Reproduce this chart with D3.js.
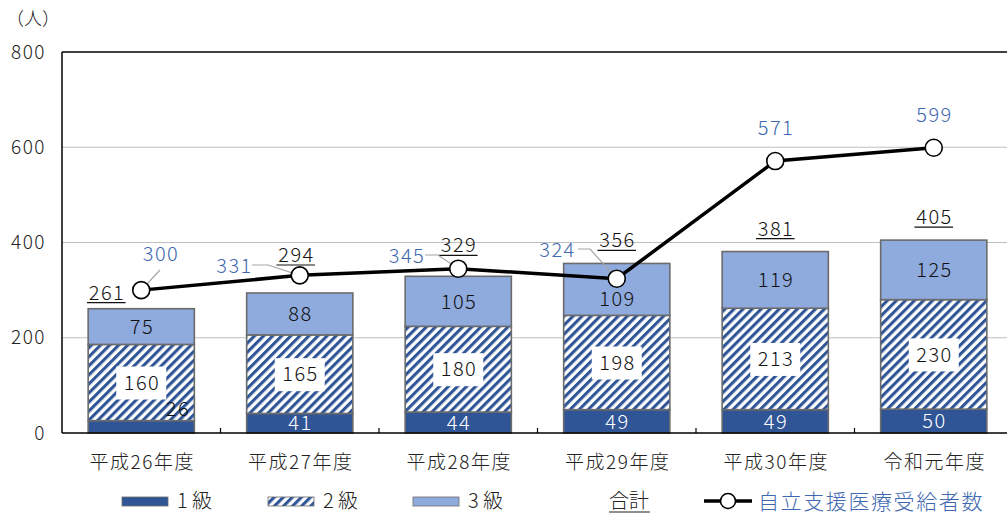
<!DOCTYPE html>
<meta charset='utf-8'>
<style>
  body { margin: 0; background: #fff; }
  svg text { font-family: 'Noto Sans CJK JP', 'Noto Sans', sans-serif; font-weight: 300; }
  .num { letter-spacing: 1.5px; }
</style>
<div id='chart'></div>
<script src='https://d3js.org/d3.v7.min.js'></script>
<script>

  // data
  var years = ['平成26年度', '平成27年度', '平成28年度', '平成29年度', '平成30年度', '令和元年度'];
  var grade1 = [26, 41, 44, 49, 49, 50];
  var grade2 = [160, 165, 180, 198, 213, 230];
  var grade3 = [75, 88, 105, 109, 119, 125];
  var totals = [261, 294, 329, 356, 381, 405];
  var recipients = [300, 331, 345, 324, 571, 599];
  var yTicks = [0, 200, 400, 600, 800];

  // label nudges (px), kept apart from the data
  var totalDx = [-35, -4, 0, 0, 0, 0];
  var totalDy = [7, -15, -8, 0, 0, 0];
  var lineLab = [
    {dx: 19, dy: -29, lead: [[160, 270]]},
    {dx: -66, dy: -2, lead: [[252, 265], [268, 265]]},
    {dx: -52, dy: -6, lead: [[425, 255], [438, 255]]},
    {dx: -60, dy: -22, lead: [[578, 249], [590, 249]]},
    {dx: 0, dy: -26, lead: null},
    {dx: 0, dy: -26, lead: null}
  ];

  var dark = '#2f5597', light = '#8faadc', blueText = '#4068b0';

  var W = 1007, H = 514;
  var plotL = 62, plotR = 1013, plotT = 52, plotB = 433;

  var svg = d3.select('#chart').append('svg')
      .attr('width', W).attr('height', H);

  var defs = svg.append('defs');
  var pat = defs.append('pattern')
      .attr('id', 'hatch')
      .attr('patternUnits', 'userSpaceOnUse')
      .attr('width', 6.4).attr('height', 6.4)
      .attr('patternTransform', 'rotate(45)');
  pat.append('rect').attr('width', 6.4).attr('height', 6.4).attr('fill', '#fff');
  pat.append('rect').attr('width', 3.1).attr('height', 6.4).attr('fill', dark);

  var x = d3.scaleBand()
      .domain(years)
      .range([plotL, plotR])
      .paddingInner(0.33)
      .paddingOuter(0.165);

  var y = d3.scaleLinear()
      .domain([0, 800])
      .range([plotB, plotT]);

  // grid
  svg.append('g').selectAll('line')
    .data(yTicks.filter(function (d) { return d > 0 && d < 800; }))
    .enter().append('line')
      .attr('x1', plotL).attr('x2', plotR)
      .attr('y1', function (d) { return y(d); })
      .attr('y2', function (d) { return y(d); })
      .attr('stroke', '#bfbfbf').attr('stroke-width', 1.2);

  // frame: top and left
  svg.append('line').attr('x1', plotL).attr('x2', plotR).attr('y1', y(800)).attr('y2', y(800))
      .attr('stroke', '#000').attr('stroke-width', 1.5);
  svg.append('line').attr('x1', plotL).attr('x2', plotL).attr('y1', plotT).attr('y2', plotB)
      .attr('stroke', '#000').attr('stroke-width', 1.5);

  // y labels
  svg.append('g').selectAll('text')
    .data(yTicks).enter().append('text')
      .attr('class', 'num')
      .attr('x', 46).attr('y', function (d) { return y(d); })
      .attr('dy', '0.35em')
      .attr('text-anchor', 'end')
      .attr('font-size', 19).attr('fill', '#222')
      .text(function (d) { return d; });
  svg.append('text').attr('x', 6).attr('y', 25)
      .attr('font-size', 18).attr('fill', '#222').text('（人）');

  // stacked bars
  var segs = [];
  years.forEach(function (yr, i) {
    segs.push({i: i, k: 0, y0: 0, y1: grade1[i], v: grade1[i]});
    segs.push({i: i, k: 1, y0: grade1[i], y1: grade1[i] + grade2[i], v: grade2[i]});
    segs.push({i: i, k: 2, y0: grade1[i] + grade2[i], y1: totals[i], v: grade3[i]});
  });
  var fills = [dark, 'url(#hatch)', light];

  svg.append('g').selectAll('rect')
    .data(segs).enter().append('rect')
      .attr('x', function (d) { return x(years[d.i]); })
      .attr('width', x.bandwidth())
      .attr('y', function (d) { return y(d.y1); })
      .attr('height', function (d) { return y(d.y0) - y(d.y1); })
      .attr('fill', function (d) { return fills[d.k]; })
      .attr('stroke', '#6b6b6b').attr('stroke-width', 1.6);

  // bottom axis
  svg.append('line').attr('x1', plotL).attr('x2', plotR).attr('y1', plotB).attr('y2', plotB)
      .attr('stroke', '#000').attr('stroke-width', 1.5);
  var bounds = years.slice(1).map(function (d) { return x(d) - x.step() * x.paddingInner() / 2; });
  svg.append('g').selectAll('line')
    .data(bounds).enter().append('line')
      .attr('x1', function (d) { return d; }).attr('x2', function (d) { return d; })
      .attr('y1', plotB).attr('y2', plotB - 5)
      .attr('stroke', '#000').attr('stroke-width', 1.2);
  svg.append('g').selectAll('text')
    .data(years).enter().append('text')
      .attr('x', function (d) { return x(d) + x.bandwidth() / 2 + 1; })
      .attr('y', 469)
      .attr('text-anchor', 'middle')
      .attr('font-size', 19).attr('letter-spacing', 1.5).attr('fill', '#222')
      .text(function (d) { return d; });

  function cx(i) { return x(years[i]) + x.bandwidth() / 2; }

  function num(g, tx, ty, v, color) {
    return g.append('text').attr('class', 'num')
      .attr('x', tx + 0.75).attr('y', ty)
      .attr('text-anchor', 'middle').attr('font-size', 20).attr('fill', color)
      .text(v);
  }

  // segment labels
  var labG = svg.append('g');
  segs.forEach(function (d) {
    var px = cx(d.i), py = (y(d.y0) + y(d.y1)) / 2;
    if (d.k === 0) {
      if (d.i === 0) {
        num(labG, px + 36, 416, d.v, '#111');
      } else {
        num(labG, px, py, d.v, '#fff').attr('dy', '0.36em');
      }
    } else if (d.k === 1) {
      labG.append('rect').attr('x', px - 25).attr('y', py - 16)
        .attr('width', 50).attr('height', 33).attr('fill', '#fff');
      num(labG, px, py, d.v, '#111').attr('dy', '0.36em');
    } else {
      var shift = d.i === 3 ? 9 : 0;
      num(labG, px, py + shift, d.v, '#111').attr('dy', '0.36em');
    }
  });

  // totals, underlined
  totals.forEach(function (v, i) {
    var tx = cx(i) + totalDx[i], ty = y(v) - 16 + totalDy[i];
    var t = num(labG, tx, ty, v, '#111');
    var w = t.node().getComputedTextLength();
    labG.append('line').attr('x1', tx - w / 2 - 1).attr('x2', tx + w / 2 + 1)
      .attr('y1', ty + 3).attr('y2', ty + 3)
      .attr('stroke', '#111').attr('stroke-width', 1.2);
  });

  // leader lines for the line labels
  recipients.forEach(function (v, i) {
    var L = lineLab[i];
    if (!L.lead) return;
    var pts = L.lead.concat([[cx(i), y(v)]]);
    svg.append('path')
      .attr('d', d3.line()(pts))
      .attr('fill', 'none').attr('stroke', '#a6a6a6').attr('stroke-width', 1.2);
  });

  // recipients line
  svg.append('path')
    .datum(recipients)
    .attr('d', d3.line()
      .x(function (d, i) { return cx(i); })
      .y(function (d) { return y(d); }))
    .attr('fill', 'none').attr('stroke', '#000').attr('stroke-width', 3.5);

  svg.append('g').selectAll('circle')
    .data(recipients).enter().append('circle')
      .attr('cx', function (d, i) { return cx(i); })
      .attr('cy', function (d) { return y(d); })
      .attr('r', 8.5)
      .attr('fill', '#fff').attr('stroke', '#000').attr('stroke-width', 1.6);

  recipients.forEach(function (v, i) {
    var L = lineLab[i];
    num(svg, cx(i) + L.dx, y(v) + L.dy, v, blueText);
  });

  // legend
  var leg = svg.append('g');
  var legItems = [
    {x: 122, fill: dark, label: '1 級'},
    {x: 268, fill: 'url(#hatch)', label: '2 級'},
    {x: 413, fill: light, label: '3 級'}
  ];
  legItems.forEach(function (d) {
    leg.append('rect').attr('x', d.x).attr('y', 497).attr('width', 46).attr('height', 9)
      .attr('fill', d.fill).attr('stroke', '#6b6b6b').attr('stroke-width', 0.8);
    leg.append('text').attr('x', d.x + 55).attr('y', 508)
      .attr('font-size', 20).attr('fill', '#222').text(d.label);
  });
  leg.append('text').attr('x', 609).attr('y', 508)
    .attr('font-size', 20).attr('fill', '#222').text('合計');
  leg.append('line').attr('x1', 609).attr('x2', 650).attr('y1', 512).attr('y2', 512)
    .attr('stroke', '#222').attr('stroke-width', 1.2);
  leg.append('line').attr('x1', 704).attr('x2', 752).attr('y1', 501).attr('y2', 501)
    .attr('stroke', '#000').attr('stroke-width', 3.5);
  leg.append('circle').attr('cx', 728).attr('cy', 501).attr('r', 7.5)
    .attr('fill', '#fff').attr('stroke', '#000').attr('stroke-width', 1.6);
  leg.append('text').attr('x', 758).attr('y', 509)
    .attr('font-size', 21).attr('letter-spacing', 1.6).attr('fill', blueText)
    .text('自立支援医療受給者数');

</script>
